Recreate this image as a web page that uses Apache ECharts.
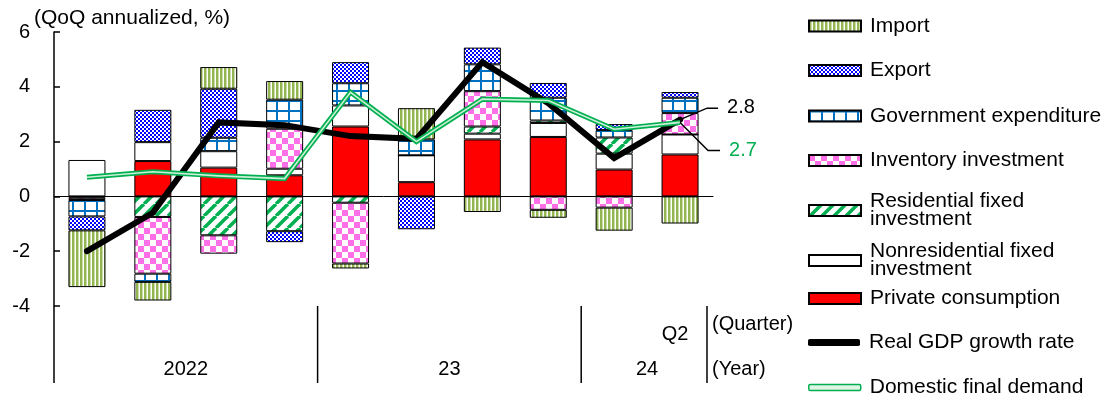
<!DOCTYPE html>
<html><head><meta charset="utf-8">
<script src="https://cdn.jsdelivr.net/npm/echarts@6/dist/echarts.min.js"></script>
<style>html,body{margin:0;padding:0;background:#fff}#c{width:1104px;height:399px}</style>
</head><body><div id="c"></div>
<script>
// ---- data ----
const quarters = ['Q1','Q2','Q3','Q4','Q1','Q2','Q3','Q4','Q1','Q2'];
const years = ['2022','23','24'];
const yearSpans = [4, 4, 2];
const privateConsumption = [0.0, 1.29, 1.05, 0.77, 2.55, 0.52, 2.08, 2.17, 0.98, 1.53];
const nonresidential = [1.33, 0.69, 0.60, 0.24, 0.77, 0.98, 0.21, 0.51, 0.58, 0.73];
const residential = [-0.05, -0.75, -1.42, -1.27, -0.23, 0, 0.26, 0.09, 0.59, 0];
const inventory = [-0.08, -2.07, -0.67, 1.46, -2.22, 0, 1.29, -0.49, -0.41, 0.78];
const government = [-0.6, -0.3, 0.49, 1.06, 0.81, 0.58, 0.98, 0.83, 0.27, 0.56];
const exportC = [-0.51, 1.18, 1.79, -0.4, 0.77, -1.2, 0.61, 0.54, 0.22, 0.21];
const importC = [-2.07, -0.68, 0.79, 0.68, -0.18, 1.14, -0.57, -0.29, -0.84, -0.99];
const realGDP = [-2.0, -0.6, 2.7, 2.6, 2.2, 2.1, 4.9, 3.4, 1.4, 2.8];
const domesticFinalDemand = [0.7, 0.9, 0.75, 0.65, 3.8, 2.0, 3.55, 3.5, 2.45, 2.7];
const yTicks = {min: -4, max: 6, interval: 2};

const FONT = "'Liberation Sans', Arial, sans-serif";
function pat(w, h, draw) {
  const c = document.createElement('canvas'); c.width = w; c.height = h;
  const g = c.getContext('2d'); g.fillStyle = '#fff'; g.fillRect(0, 0, w, h); draw(g);
  return {image: c, repeat: 'repeat'};
}
const pImport = pat(4, 4, g => { g.fillStyle = '#93B552'; g.fillRect(0, 0, 2, 4); g.fillStyle = '#CBDDA8'; g.fillRect(2, 0, 1, 4); });
const pExport = pat(4, 4, g => { g.fillStyle = '#0000FF'; g.fillRect(0, 0, 2, 2); g.fillRect(2, 2, 2, 2); });
const pGov = pat(12, 10, g => { g.fillStyle = '#0070C0'; g.fillRect(0, 0, 2, 10); g.fillRect(0, 0, 12, 2); });
const pInv = pat(12, 12, g => { g.fillStyle = '#FF70E8'; g.fillRect(0, 0, 6, 6); g.fillRect(6, 6, 6, 6); });
const pRes = pat(12, 12, g => { g.strokeStyle = '#00B050'; g.lineWidth = 3.5; for (const k of [-12, 0, 12]) { g.beginPath(); g.moveTo(k, 12); g.lineTo(k + 12, 0); g.stroke(); } });

const chart = echarts.init(document.getElementById('c'), null, {renderer: 'canvas'});
const border = {borderColor: '#000', borderWidth: 1};
function barSeries(name, data, color) {
  return {name, type: 'bar', stack: 'g', data, barWidth: 37, z: 2, itemStyle: Object.assign({color}, border), animation: false};
}
const legendBase = {left: 808, orient: 'vertical', itemWidth: 52, itemHeight: 11, padding: 0, selectedMode: false, icon: 'rect',
  textStyle: {fontSize: 21, color: '#000', fontFamily: FONT, lineHeight: 18, padding: [0, 0, 0, 4]}};
function lg(top, item, extra) { return Object.assign({}, legendBase, {top, data: [item]}, extra || {}); }

const option = {
  animation: false,
  textStyle: {fontFamily: FONT},
  title: {text: '(QoQ annualized, %)', left: 34, top: 8, padding: 0, textStyle: {fontSize: 21, fontWeight: 'normal', color: '#000', fontFamily: FONT}},
  grid: {left: 54, right: 391, top: 32, bottom: 93},
  legend: [
    lg(15.5, 'Import'),
    lg(60, 'Export'),
    lg(105.5, 'Government expenditure'),
    lg(150, 'Inventory investment'),
    lg(191, 'Residential fixed\ninvestment'),
    lg(241, 'Nonresidential fixed\ninvestment'),
    lg(288, 'Private consumption'),
    lg(332, {name: 'Real GDP growth rate', icon: 'roundRect', itemStyle: {color: '#000', borderWidth: 0}}, {itemHeight: 7}),
    lg(377, {name: 'Domestic final demand', icon: 'roundRect', itemStyle: {color: '#DDF5E5', borderColor: '#00B050', borderWidth: 1.5}}, {itemHeight: 6})
  ],
  xAxis: [
    {type: 'category', data: quarters, axisLine: {onZero: true, lineStyle: {color: '#000', width: 1}}, axisTick: {show: false}, axisLabel: {show: false}},
    {type: 'value', min: 0, max: quarters.length, interval: 1, position: 'bottom', axisLine: {show: false, onZero: false}, axisTick: {show: false}, splitLine: {show: false},
      axisLabel: {margin: 53, fontSize: 20, color: '#000', fontFamily: FONT, formatter: v => {
        let s = 0; for (let i = 0; i < years.length; i++) { if (v === s + yearSpans[i] / 2) return years[i]; s += yearSpans[i]; } return ''; }}},
    {type: 'category', data: quarters, position: 'bottom', axisLine: {show: false, onZero: false}, axisTick: {show: false},
      axisLabel: {margin: 18, interval: 0, fontSize: 20, color: '#000', fontFamily: FONT, padding: [0, 10, 0, 0], formatter: (v, i) => i === quarters.length - 1 ? v : ''}}
  ],
  yAxis: {type: 'value', min: yTicks.min, max: yTicks.max, interval: yTicks.interval,
    axisLine: {show: true, lineStyle: {color: '#000', width: 1.5}}, axisTick: {show: true, inside: true, length: 6, lineStyle: {color: '#000', width: 1.5}},
    splitLine: {show: false}, axisLabel: {margin: 24, fontSize: 20, color: '#000', fontFamily: FONT}},
  series: [
    barSeries('Private consumption', privateConsumption, '#FF0000'),
    barSeries('Nonresidential fixed\ninvestment', nonresidential, '#FFFFFF'),
    barSeries('Residential fixed\ninvestment', residential, pRes),
    barSeries('Inventory investment', inventory, pInv),
    barSeries('Government expenditure', government, pGov),
    barSeries('Export', exportC, pExport),
    barSeries('Import', importC, pImport),
    {name: 'Real GDP growth rate', type: 'line', data: realGDP, symbol: 'none', z: 3, color: '#000',
      lineStyle: {color: '#000', width: 6, join: 'miter', cap: 'round'}},
    {name: 'Domestic final demand', type: 'line', data: domesticFinalDemand, symbol: 'none', z: 4, color: '#00B050',
      lineStyle: {color: '#00B050', width: 5, join: 'miter'}},
    {name: '_dfd_inner', type: 'line', data: domesticFinalDemand, symbol: 'none', z: 5, silent: true,
      lineStyle: {color: '#CDEFD8', width: 1.6, join: 'miter'}}
  ]
};
chart.setOption(option);

// decorations computed through the chart's scales
const n = quarters.length;
const px = v => chart.convertToPixel({xAxisIndex: 1}, v);
const py = v => chart.convertToPixel({yAxisIndex: 0}, v);
const plotBottom = py(yTicks.min);
const sepBottom = plotBottom + 77;
const g = [];
const line = (x1, y1, x2, y2, w, col) => g.push({type: 'line', shape: {x1, y1, x2, y2}, style: {stroke: col || '#000', lineWidth: w || 1.5}, z: 10});
let acc = 0;
line(px(0), plotBottom, px(0), sepBottom, 1.5);
for (let i = 0; i < yearSpans.length - 1; i++) { acc += yearSpans[i]; line(px(acc), plotBottom, px(acc), sepBottom, 1.5); }
const rightSep = px(n) - 6;
line(rightSep, plotBottom, rightSep, sepBottom, 1.5);
const txt = (x, y, text, color) => g.push({type: 'text', x, y, style: {text, fill: color || '#000', font: '20px ' + FONT, textVerticalAlign: 'middle', verticalAlign: 'middle'}, z: 10});
txt(rightSep + 5, plotBottom + 18, '(Quarter)');
txt(rightSep + 5, plotBottom + 63, '(Year)');
// end-value callouts
const pg = chart.convertToPixel({seriesIndex: 7}, [n - 1, realGDP[n - 1]]);
const pd = chart.convertToPixel({seriesIndex: 8}, [n - 1, domesticFinalDemand[n - 1]]);
g.push({type: 'polyline', shape: {points: [[pg[0], pg[1]], [pg[0] + 27, pg[1] - 11.5], [pg[0] + 38, pg[1] - 11.5]]}, style: {stroke: '#000', lineWidth: 1.5, fill: null}, z: 10});
g.push({type: 'polyline', shape: {points: [[pd[0], pd[1]], [pd[0] + 28, pd[1] + 28], [pd[0] + 40, pd[1] + 28]]}, style: {stroke: '#000', lineWidth: 1.5, fill: null}, z: 10});
txt(pg[0] + 47, pg[1] - 12, realGDP[n - 1].toFixed(1), '#000');
txt(pd[0] + 49, pd[1] + 28, domesticFinalDemand[n - 1].toFixed(1), '#00B050');
chart.setOption({graphic: g});
</script></body></html>
